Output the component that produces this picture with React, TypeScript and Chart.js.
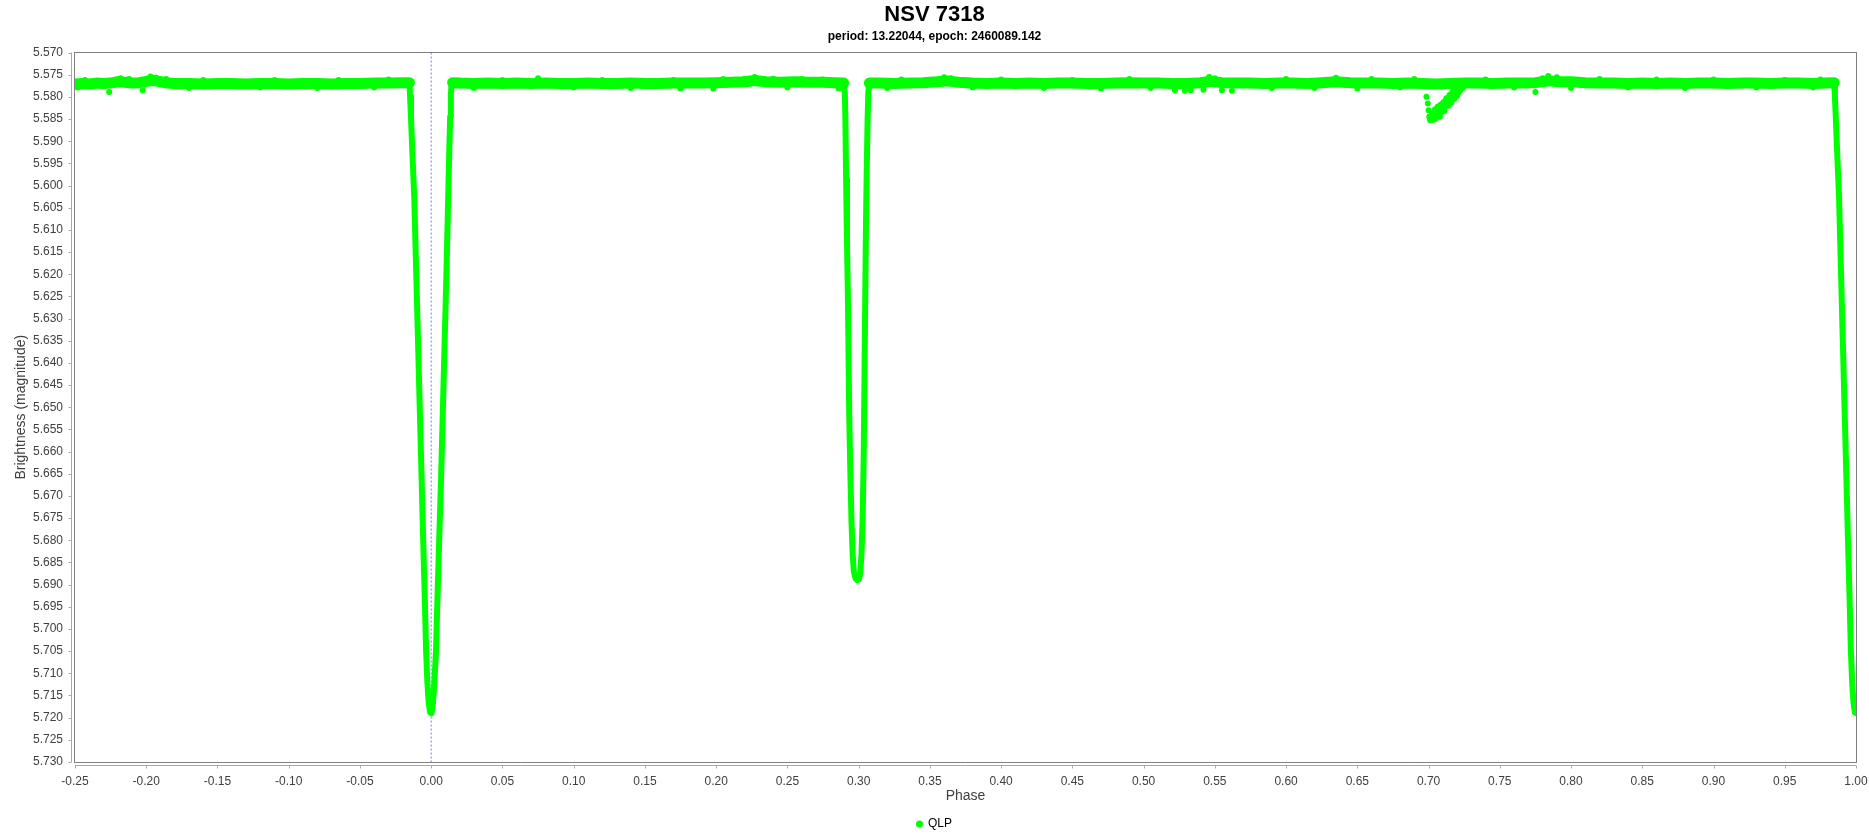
import React, { useEffect, useRef } from "react";
import { Chart, registerables } from "chart.js";

Chart.register(...registerables);
Chart.defaults.font.family = '"Liberation Sans", Arial, sans-serif';

const TITLE = "NSV 7318";
const SUBTITLE = "period: 13.22044, epoch: 2460089.142";
const SERIES_NAME = "QLP";
const X_LABEL = "Phase";
const Y_LABEL = "Brightness (magnitude)";
const X_MIN = -0.25;
const X_MAX = 1.0;
const X_STEP = 0.05;
const Y_MIN = 5.57;
const Y_MAX = 5.73;
const Y_STEP = 0.005;
const EPOCH_PHASE = 0;

// Out-of-eclipse level before the primary eclipse
const baseAPhase = [-0.25, -0.245, -0.24, -0.235, -0.23, -0.225, -0.22, -0.215, -0.21, -0.205, -0.2, -0.195, -0.19, -0.185, -0.18, -0.17, -0.16, -0.15, -0.14, -0.13, -0.12, -0.11, -0.1, -0.09, -0.08, -0.07, -0.06, -0.05, -0.04, -0.03, -0.02, -0.0153];
const baseAMag = [5.5771, 5.577, 5.5771, 5.5769, 5.577, 5.5769, 5.5766, 5.5767, 5.5769, 5.5768, 5.5765, 5.5763, 5.5766, 5.5769, 5.577, 5.577, 5.5771, 5.577, 5.577, 5.5771, 5.577, 5.577, 5.5771, 5.577, 5.577, 5.5771, 5.577, 5.577, 5.5769, 5.5769, 5.5768, 5.5768];

// Primary eclipse
const priPhase = [-0.0153, -0.0148, -0.0142, -0.0131, -0.0119, -0.0106, -0.0093, -0.008, -0.0067, -0.0057, -0.0046, -0.0036, -0.0027, -0.0018, -0.0008, 0.0002, 0.0012, 0.0022, 0.0034, 0.0045, 0.0057, 0.0069, 0.0082, 0.0095, 0.0108, 0.0119, 0.0127, 0.0133, 0.0138, 0.0143, 0.015];
const priMag = [5.5768, 5.58, 5.5845, 5.5935, 5.6025, 5.6185, 5.6345, 5.6505, 5.6664, 5.679, 5.692, 5.7048, 5.712, 5.7165, 5.7188, 5.719, 5.7168, 5.712, 5.7048, 5.692, 5.679, 5.6664, 5.6505, 5.6345, 5.6185, 5.603, 5.592, 5.5845, 5.5795, 5.5772, 5.5768];

// Between primary and secondary
const baseBPhase = [0.015, 0.02, 0.03, 0.04, 0.05, 0.06, 0.07, 0.08, 0.09, 0.1, 0.11, 0.12, 0.13, 0.14, 0.15, 0.16, 0.17, 0.18, 0.19, 0.2, 0.21, 0.22, 0.227, 0.235, 0.245, 0.255, 0.265, 0.275, 0.283, 0.2895];
const baseBMag = [5.5768, 5.5769, 5.577, 5.5769, 5.577, 5.5769, 5.577, 5.5769, 5.577, 5.577, 5.5769, 5.577, 5.577, 5.5769, 5.577, 5.577, 5.5769, 5.5769, 5.5769, 5.5768, 5.5767, 5.5766, 5.5763, 5.5766, 5.5767, 5.5766, 5.5767, 5.5767, 5.5768, 5.5769];

// Secondary eclipse
const secPhase = [0.2895, 0.2903, 0.2907, 0.2912, 0.2918, 0.2925, 0.2934, 0.2942, 0.295, 0.2958, 0.2966, 0.2978, 0.299, 0.3002, 0.3012, 0.302, 0.3028, 0.3036, 0.3044, 0.3051, 0.3057, 0.3063, 0.3068, 0.3075];
const secMag = [5.5769, 5.579, 5.585, 5.5985, 5.612, 5.626, 5.652, 5.665, 5.676, 5.683, 5.687, 5.6886, 5.689, 5.6888, 5.6872, 5.683, 5.675, 5.66, 5.633, 5.61, 5.596, 5.585, 5.579, 5.5769];

// After secondary up to the next primary
const baseCPhase = [0.3075, 0.315, 0.325, 0.335, 0.345, 0.355, 0.362, 0.37, 0.38, 0.39, 0.4, 0.41, 0.42, 0.43, 0.44, 0.45, 0.46, 0.47, 0.48, 0.49, 0.5, 0.51, 0.52, 0.53, 0.54, 0.546, 0.555, 0.565, 0.575, 0.585, 0.595, 0.605, 0.615, 0.625, 0.635, 0.645, 0.655, 0.665, 0.675, 0.685, 0.695, 0.705, 0.715, 0.725, 0.735, 0.745, 0.755, 0.765, 0.775, 0.784, 0.792, 0.8, 0.81, 0.82, 0.83, 0.84, 0.85, 0.86, 0.87, 0.88, 0.89, 0.9, 0.91, 0.92, 0.93, 0.94, 0.95, 0.96, 0.97, 0.978, 0.9847];
const baseCMag = [5.5769, 5.5769, 5.577, 5.5769, 5.5768, 5.5766, 5.5764, 5.5767, 5.5769, 5.577, 5.5769, 5.577, 5.5769, 5.577, 5.5769, 5.5769, 5.577, 5.577, 5.5769, 5.5768, 5.5769, 5.5769, 5.577, 5.577, 5.5768, 5.5765, 5.5768, 5.5769, 5.5769, 5.577, 5.5769, 5.5769, 5.577, 5.5768, 5.5766, 5.5768, 5.5769, 5.5769, 5.577, 5.5769, 5.577, 5.5771, 5.577, 5.5769, 5.5769, 5.577, 5.5769, 5.5769, 5.5768, 5.5764, 5.5766, 5.5766, 5.5768, 5.5769, 5.5769, 5.577, 5.5769, 5.577, 5.5769, 5.577, 5.5769, 5.5769, 5.577, 5.5769, 5.5769, 5.577, 5.5769, 5.5769, 5.577, 5.5769, 5.5768];

// Ingress of the next primary eclipse at the right edge
const finPhase = [0.9847, 0.9852, 0.9858, 0.9869, 0.9881, 0.9894, 0.9907, 0.992, 0.9933, 0.9943, 0.9954, 0.9964, 0.9973, 0.9982, 0.9992, 1.0002];
const finMag = [5.5768, 5.58, 5.5845, 5.5935, 5.6025, 5.6185, 5.6345, 5.6505, 5.6664, 5.679, 5.692, 5.7048, 5.712, 5.7165, 5.7188, 5.719];

// Individual scattered observations (band edges, outliers, spot near 0.70-0.72)
const qlpPhase = [
  -0.243, -0.218, -0.212, -0.197, -0.193, -0.186, -0.16, -0.11, -0.065, -0.03, 0.05, 0.075, 0.12, 0.17, 0.205, 0.22, 0.227, 0.24, 0.26, 0.275, 0.33, 0.36, 0.365, 0.4, 0.45, 0.49, 0.546, 0.55, 0.6, 0.635, 0.66, 0.69, 0.74, 0.78, 0.784, 0.79, 0.82, 0.86, 0.9, 0.95, 0.975,
  -0.248, -0.226, -0.2025, -0.17, -0.12, -0.08, -0.04, 0.03, 0.1, 0.14, 0.175, 0.198, 0.25, 0.286, 0.32, 0.38, 0.43, 0.47, 0.505, 0.522, 0.529, 0.533, 0.542, 0.555, 0.562, 0.59, 0.62, 0.65, 0.68, 0.76, 0.775, 0.8, 0.84, 0.88, 0.93, 0.97,
  0.6985, 0.6995, 0.7, 0.7005, 0.701, 0.702, 0.703, 0.704, 0.705, 0.706, 0.707, 0.708, 0.709, 0.71, 0.711, 0.712, 0.713, 0.714, 0.715, 0.716, 0.717, 0.718, 0.719, 0.72, 0.721, 0.722, 0.723, 0.724, 0.715, 0.717, 0.719, 0.708, 0.706, 0.71, 0.712, 0.704,
  0.7025, 0.7045, 0.7065, 0.7085, 0.7105, 0.7125, 0.7145, 0.7165, 0.7185, 0.7205, 0.7225, 0.7245
];
const qlpMag = [
  5.5762, 5.5758, 5.576, 5.5754, 5.5757, 5.576, 5.5762, 5.5762, 5.5762, 5.5761, 5.5762, 5.5758, 5.5762, 5.5762, 5.576, 5.5759, 5.5755, 5.5759, 5.576, 5.5761, 5.5761, 5.5756, 5.5758, 5.5761, 5.5762, 5.576, 5.5755, 5.5758, 5.576, 5.5757, 5.576, 5.576, 5.5761, 5.5758, 5.5753, 5.5756, 5.576, 5.5761, 5.5761, 5.5762, 5.5761,
  5.5779, 5.5789, 5.5785, 5.578, 5.5779, 5.578, 5.5779, 5.578, 5.5779, 5.578, 5.5781, 5.5782, 5.5779, 5.5781, 5.578, 5.5779, 5.578, 5.5781, 5.578, 5.5785, 5.5786, 5.5785, 5.5784, 5.5785, 5.5786, 5.578, 5.578, 5.5781, 5.5779, 5.5779, 5.5789, 5.578, 5.5779, 5.578, 5.5779, 5.5779,
  5.58, 5.5815, 5.583, 5.5845, 5.5852, 5.5848, 5.5852, 5.5846, 5.585, 5.5843, 5.5838, 5.5845, 5.5835, 5.5828, 5.5832, 5.5822, 5.5815, 5.582, 5.5808, 5.5812, 5.58, 5.5805, 5.5795, 5.5798, 5.579, 5.5786, 5.5782, 5.578, 5.5795, 5.5788, 5.5785, 5.5825, 5.583, 5.5815, 5.5808, 5.5835,
  5.5838, 5.5828, 5.5822, 5.5818, 5.5812, 5.5803, 5.5798, 5.5792, 5.5787, 5.5783, 5.5779, 5.5776
];

const GREEN = "#00ff00";

const toPoints = (ph: number[], mg: number[]) => ph.map((x, i) => ({ x, y: mg[i] }));

const framePlugin = {
  id: "jfreeFrame",
  afterDraw(chart: any) {
    const { ctx, chartArea: a, scales } = chart;
    const xs = scales.x;
    const ys = scales.y;
    ctx.save();
    ctx.lineWidth = 1;
    // axis lines (offset from the plot) with outside tick marks
    ctx.strokeStyle = "#a8a8a8";
    ctx.beginPath();
    const axX = Math.round(a.left) - 3.5;
    const axY = Math.round(a.bottom) + 3.5;
    ctx.moveTo(axX, a.top);
    ctx.lineTo(axX, a.bottom);
    ctx.moveTo(a.left, axY);
    ctx.lineTo(a.right, axY);
    ys.ticks.forEach((t: any) => {
      const y = Math.round(ys.getPixelForValue(t.value)) + 0.5;
      ctx.moveTo(axX, y);
      ctx.lineTo(axX - 3, y);
    });
    xs.ticks.forEach((t: any) => {
      const x = Math.round(xs.getPixelForValue(t.value)) + 0.5;
      ctx.moveTo(x, axY);
      ctx.lineTo(x, axY + 3);
    });
    ctx.stroke();
    // plot outline
    ctx.strokeStyle = "#808080";
    ctx.strokeRect(Math.round(a.left) - 0.5, Math.round(a.top) - 0.5, Math.round(a.right) - Math.round(a.left) + 1, Math.round(a.bottom) - Math.round(a.top) + 1);
    ctx.restore();
  },
};

export default function App() {
  const ref = useRef<HTMLCanvasElement | null>(null);

  useEffect(() => {
    document.body.style.margin = "0";
    const canvas = ref.current;
    if (!canvas) return;

    const lineStyle = (width: number) => ({
      showLine: true,
      borderColor: GREEN,
      backgroundColor: GREEN,
      borderWidth: width,
      borderCapStyle: "round" as const,
      borderJoinStyle: "round" as const,
      pointRadius: 0,
      tension: 0,
      clip: 0,
    });

    const chart = new Chart(canvas, {
      type: "scatter",
      data: {
        datasets: [
          {
            label: SERIES_NAME,
            data: toPoints(qlpPhase, qlpMag),
            showLine: false,
            pointStyle: "circle",
            pointRadius: 3,
            pointBorderWidth: 0,
            pointBackgroundColor: GREEN,
            backgroundColor: GREEN,
            borderColor: GREEN,
            borderWidth: 0,
            clip: 0,
          } as any,
          { label: "eclipse1", data: toPoints(priPhase, priMag), ...lineStyle(6) } as any,
          { label: "eclipse2", data: toPoints(secPhase, secMag), ...lineStyle(6) } as any,
          { label: "eclipse3", data: toPoints(finPhase, finMag), ...lineStyle(6) } as any,
          { label: "baseA", data: toPoints(baseAPhase, baseAMag), ...lineStyle(11) } as any,
          { label: "baseB", data: toPoints(baseBPhase, baseBMag), ...lineStyle(11) } as any,
          { label: "baseC", data: toPoints(baseCPhase, baseCMag), ...lineStyle(11) } as any,
          {
            label: "epoch",
            data: [
              { x: EPOCH_PHASE, y: Y_MIN },
              { x: EPOCH_PHASE, y: Y_MAX },
            ],
            showLine: true,
            borderColor: "#7878ff",
            borderWidth: 1,
            borderDash: [2, 2],
            pointRadius: 0,
            clip: 0,
          } as any,
        ],
      },
      options: {
        animation: false,
        responsive: false,
        events: [],
        layout: { padding: { left: 0, right: 0, top: 0, bottom: -4 } },
        plugins: {
          title: {
            display: true,
            text: TITLE,
            color: "#000000",
            font: { size: 22, weight: "bold" },
            padding: { top: 1.8, bottom: 0 },
          },
          subtitle: {
            display: true,
            text: SUBTITLE,
            color: "#000000",
            font: { size: 12, weight: "bold" },
            padding: { top: 1.6, bottom: 8.3 },
          },
          legend: {
            display: true,
            position: "bottom",
            labels: {
              usePointStyle: true,
              boxWidth: 5,
              boxHeight: 5,
              padding: 2,
              color: "#000000",
              font: { size: 12 },
              filter: (item: any) => item.datasetIndex === 0,
            },
          },
          tooltip: { enabled: false },
        },
        scales: {
          x: {
            type: "linear",
            min: X_MIN,
            max: X_MAX,
            grid: { display: false, drawTicks: false },
            border: { display: false },
            ticks: {
              stepSize: X_STEP,
              autoSkip: false,
              maxRotation: 0,
              padding: 12,
              color: "#404040",
              font: { size: 12 },
              callback: (v: any) => {
                const n = Number(v);
                return (Math.abs(n) < 1e-9 ? 0 : n).toFixed(2);
              },
            },
            title: {
              display: true,
              text: X_LABEL,
              color: "#404040",
              font: { size: 14 },
              padding: { top: 0, bottom: 11.6 },
            },
            afterFit: (s: any) => {
              s.height = 54;
              s.paddingLeft = 0;
              s.paddingRight = 0;
            },
          },
          y: {
            type: "linear",
            position: "left",
            reverse: true,
            min: Y_MIN,
            max: Y_MAX,
            grid: { display: false, drawTicks: false },
            border: { display: false },
            ticks: {
              stepSize: Y_STEP,
              autoSkip: false,
              padding: 12,
              color: "#404040",
              font: { size: 12 },
              callback: (v: any) => Number(v).toFixed(3),
            },
            title: {
              display: true,
              text: Y_LABEL,
              color: "#404040",
              font: { size: 14 },
              padding: { top: 13.1, bottom: 0 },
            },
            afterFit: (s: any) => {
              s.width = 75;
              s.paddingTop = 0;
              s.paddingBottom = 0;
            },
          },
          yRight: {
            type: "linear",
            position: "right",
            display: true,
            min: Y_MIN,
            max: Y_MAX,
            grid: { display: false, drawTicks: false },
            border: { display: false },
            ticks: { display: false },
            afterFit: (s: any) => {
              s.width = 13;
              s.paddingTop = 0;
              s.paddingBottom = 0;
            },
          },
        },
      } as any,
      plugins: [framePlugin],
    });

    return () => chart.destroy();
  }, []);

  return (
    <div style={{ width: 1869, height: 836, background: "#ffffff" }}>
      <canvas ref={ref} width={1869} height={836} style={{ display: "block", width: 1869, height: 836 }} />
    </div>
  );
}
